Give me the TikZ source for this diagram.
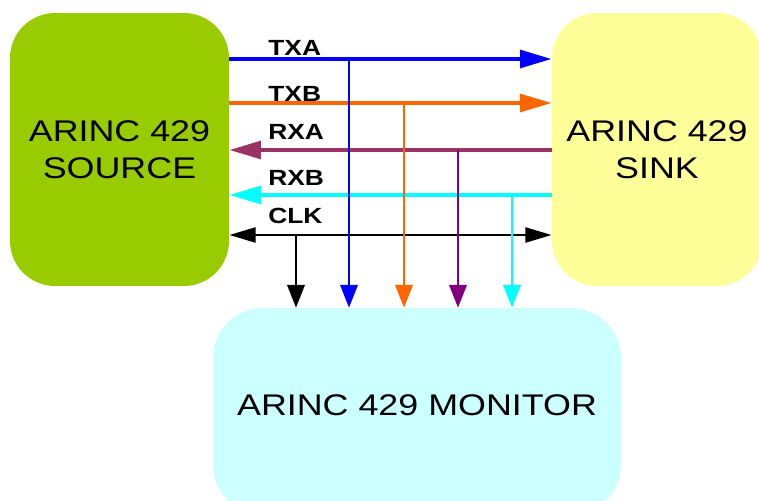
\documentclass[tikz,border=0pt]{standalone}
\usepackage{fontspec}
\setmainfont[FakeStretch=1.2]{Liberation Sans}
\usetikzlibrary{arrows.meta, positioning}

\definecolor{srcgreen}{HTML}{99CC00}
\definecolor{sinkyellow}{HTML}{FFFF99}
\definecolor{moncyan}{HTML}{CCFFFF}
\definecolor{txborange}{HTML}{FF6600}
\definecolor{rxamauve}{HTML}{993366}
\definecolor{rxapurple}{HTML}{800080}
\definecolor{rxbcyan}{HTML}{00FFFF}

\tikzset{
  block/.style={rounded corners=0.9cm, align=center, inner sep=0pt,
    font=\fontsize{17}{21}\selectfont},
  bus/.style={line width=2.3pt},
  bushead/.tip={Triangle[length=18pt, width=10pt]},
  clkhead/.tip={Triangle[length=15pt, width=8.5pt]},
  tap/.style={line width=1.1pt, -{Triangle[length=13pt, width=10pt]}},
  siglabel/.style={anchor=base west, inner sep=0pt,
    font=\bfseries\fontsize{12.5}{14}\selectfont},
}

\begin{document}
\begin{tikzpicture}[x=0.02cm, y=-0.02cm]
\useasboundingbox (0,0) rectangle (759,500);

% source, sink and monitor units
\node[block, fill=srcgreen, minimum width=4.38cm, minimum height=5.46cm]
  (source) at (119.5,149.5) {ARINC 429\\SOURCE};
\node[block, fill=sinkyellow, minimum width=4.2cm, minimum height=5.46cm]
  (sink) at (657,149.5) {ARINC 429\\SINK};
\node[block, rounded corners=1cm, fill=moncyan, minimum width=8.16cm, minimum height=4.14cm,
  text depth=0.24cm]
  (monitor) at (417,411.5) {ARINC 429 MONITOR};

% heights of the bus lines
\foreach \name/\y in {txa/59, txb/103, rxa/150, rxb/195, clk/235} {
    \coordinate (\name) at (0,\y);
};

% transmit and receive lines
\draw[bus, blue, -bushead] (source.east |- txa) -- (sink.west |- txa);
\draw[bus, txborange, -bushead] (source.east |- txb) -- (sink.west |- txb);
\draw[bus, rxamauve, -bushead] (sink.west |- rxa) -- (source.east |- rxa);
\draw[bus, rxbcyan, -bushead] (sink.west |- rxb) -- (source.east |- rxb);
\draw[line width=1.5pt, clkhead-clkhead] (source.east |- clk) -- (sink.west |- clk);

\foreach \name/\txt/\y in {txa/TXA/55, txb/TXB/101, rxa/RXA/139, rxb/RXB/185, clk/CLK/223} {
    \node[siglabel] (lbl-\name) at (268,\y) {\txt};
};

% taps down to the monitor
\foreach \x/\bus/\col in {296/clk/black, 349/txa/blue, 404/txb/txborange, 458/rxa/rxapurple, 512/rxb/rxbcyan} {
    \coordinate (tap-\bus) at (\x,0 |- \bus);
    \draw[tap, \col] (tap-\bus) -- (tap-\bus |- monitor.north);
};
\end{tikzpicture}
\end{document}
